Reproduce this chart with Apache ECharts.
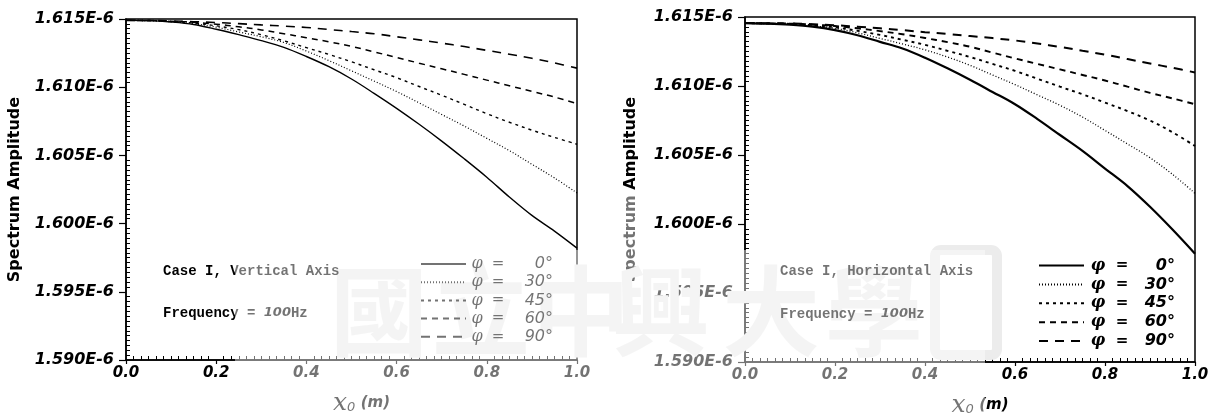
<!DOCTYPE html>
<html>
<head>
<meta charset="utf-8">
<script src="https://cdn.jsdelivr.net/npm/echarts@6/dist/echarts.min.js"></script>
<style>
html,body{margin:0;padding:0;background:#fff;}
#c{width:1213px;height:414px;}
</style>
</head>
<body>
<div id="c"></div>
<script>
// ---- data ----
const xValues = [0,0.05,0.10,0.15,0.20,0.25,0.30,0.35,0.40,0.45,0.50,0.55,0.60,0.65,0.70,0.75,0.80,0.85,0.90,0.95,1.00];
const phiLabels = ['0','30','45','60','90'];
const yTickMin = 1.590e-6, yTickMax = 1.615e-6, yTickStep = 0.005e-6;
const xTickMin = 0, xTickMax = 1, xTickStep = 0.2;

// Case I, Vertical Axis
const vert0  = [1.61490e-6,1.61488e-6,1.61478e-6,1.61460e-6,1.61425e-6,1.61385e-6,1.61342e-6,1.61292e-6,1.61225e-6,1.61150e-6,1.61060e-6,1.60955e-6,1.60845e-6,1.60728e-6,1.60605e-6,1.60475e-6,1.60340e-6,1.60195e-6,1.60060e-6,1.59945e-6,1.59820e-6];
const vert30 = [1.61490e-6,1.61488e-6,1.61480e-6,1.61465e-6,1.61440e-6,1.61405e-6,1.61370e-6,1.61328e-6,1.61265e-6,1.61195e-6,1.61120e-6,1.61045e-6,1.60968e-6,1.60885e-6,1.60800e-6,1.60715e-6,1.60625e-6,1.60535e-6,1.60435e-6,1.60335e-6,1.60225e-6];
const vert45 = [1.61490e-6,1.61489e-6,1.61482e-6,1.61470e-6,1.61450e-6,1.61422e-6,1.61385e-6,1.61340e-6,1.61290e-6,1.61240e-6,1.61186e-6,1.61128e-6,1.61070e-6,1.61005e-6,1.60941e-6,1.60874e-6,1.60806e-6,1.60743e-6,1.60685e-6,1.60632e-6,1.60582e-6];
const vert60 = [1.61490e-6,1.61489e-6,1.61484e-6,1.61476e-6,1.61462e-6,1.61443e-6,1.61420e-6,1.61392e-6,1.61363e-6,1.61333e-6,1.61299e-6,1.61259e-6,1.61218e-6,1.61176e-6,1.61135e-6,1.61094e-6,1.61052e-6,1.61011e-6,1.60969e-6,1.60928e-6,1.60879e-6];
const vert90 = [1.61490e-6,1.61489e-6,1.61486e-6,1.61480e-6,1.61474e-6,1.61466e-6,1.61457e-6,1.61448e-6,1.61438e-6,1.61423e-6,1.61408e-6,1.61392e-6,1.61370e-6,1.61347e-6,1.61323e-6,1.61298e-6,1.61270e-6,1.61242e-6,1.61212e-6,1.61178e-6,1.61140e-6];

// Case I, Horizontal Axis
const hor0  = [1.61456e-6,1.61452e-6,1.61444e-6,1.61430e-6,1.61405e-6,1.61368e-6,1.61320e-6,1.61272e-6,1.61205e-6,1.61128e-6,1.61045e-6,1.60957e-6,1.60868e-6,1.60760e-6,1.60645e-6,1.60530e-6,1.60402e-6,1.60275e-6,1.60125e-6,1.59960e-6,1.59785e-6];
const hor30 = [1.61456e-6,1.61452e-6,1.61446e-6,1.61435e-6,1.61418e-6,1.61385e-6,1.61345e-6,1.61305e-6,1.61262e-6,1.61210e-6,1.61150e-6,1.61080e-6,1.61010e-6,1.60935e-6,1.60860e-6,1.60775e-6,1.60678e-6,1.60580e-6,1.60480e-6,1.60360e-6,1.60222e-6];
const hor45 = [1.61456e-6,1.61453e-6,1.61450e-6,1.61440e-6,1.61425e-6,1.61400e-6,1.61370e-6,1.61335e-6,1.61298e-6,1.61255e-6,1.61210e-6,1.61160e-6,1.61110e-6,1.61052e-6,1.60995e-6,1.60940e-6,1.60880e-6,1.60818e-6,1.60750e-6,1.60665e-6,1.60565e-6];
const hor60 = [1.61456e-6,1.61454e-6,1.61452e-6,1.61445e-6,1.61435e-6,1.61418e-6,1.61398e-6,1.61375e-6,1.61348e-6,1.61318e-6,1.61285e-6,1.61242e-6,1.61200e-6,1.61160e-6,1.61120e-6,1.61080e-6,1.61040e-6,1.60995e-6,1.60950e-6,1.60910e-6,1.60868e-6];
const hor90 = [1.61456e-6,1.61455e-6,1.61453e-6,1.61448e-6,1.61440e-6,1.61430e-6,1.61418e-6,1.61405e-6,1.61390e-6,1.61377e-6,1.61362e-6,1.61347e-6,1.61330e-6,1.61308e-6,1.61283e-6,1.61255e-6,1.61227e-6,1.61195e-6,1.61163e-6,1.61132e-6,1.61098e-6];

const vertSeries = [vert0, vert30, vert45, vert60, vert90];
const horSeries  = [hor0, hor30, hor45, hor60, hor90];
const watermarkChars = ['國','立','中','興','大','學'];

// ---- styles ----
const dashTypes = ['solid', [1,2], [3,4], [6,5], [9,7]];
const vertWidths = [1.4, 1.2, 1.4, 1.5, 1.6];
const horWidths  = [2.2, 1.3, 1.9, 1.9, 2.0];

const chart = echarts.init(document.getElementById('c'));

function pts(ys){ return xValues.map((x,i)=>[x, ys[i]]); }

const nameToPhi = {};
const vertNames = phiLabels.map(p => { const n = 'V' + p; nameToPhi[n] = p; return n; });
const horNames  = phiLabels.map(p => { const n = 'H' + p; nameToPhi[n] = p; return n; });

function yAxisCfg(gi, gap){
  return {
    type:'value', gridIndex:gi, min:yTickMin, max:yTickMax, interval:yTickStep,
    name:'Spectrum Amplitude', nameLocation:'middle', nameGap:gap, nameRotate:90,
    nameTextStyle:{fontFamily:'DejaVu Sans', fontWeight:'bold', fontSize:16, color:'#000'},
    axisLine:{show:true, lineStyle:{color:'#000', width:1.5}},
    axisTick:{show:true, inside:false, length:7, lineStyle:{color:'#000', width:1.2}},
    minorTick:{show:true, splitNumber:14, length:-4, lineStyle:{color:'#000', width:1}},
    splitLine:{show:false}, minorSplitLine:{show:false},
    axisLabel:{margin:12, fontFamily:'DejaVu Sans', fontWeight:'bold', fontStyle:'italic', fontSize:16, color:'#000',
      formatter: v => (v*1e6).toFixed(3) + 'E-6'}
  };
}
function xAxisCfg(gi){
  return {
    type:'value', gridIndex:gi, min:xTickMin, max:xTickMax, interval:xTickStep,
    name:'{x|x}{s|0} {m|(m)}', nameLocation:'middle', nameGap:30,
    nameTextStyle:{padding:[0,0,0,20], rich:{
      x:{fontFamily:'DejaVu Serif', fontStyle:'italic', fontSize:25, color:'#000', lineHeight:26},
      s:{fontFamily:'DejaVu Sans', fontStyle:'italic', fontSize:13, color:'#000', padding:[9,2,0,0], lineHeight:26},
      m:{fontFamily:'DejaVu Sans', fontStyle:'italic', fontWeight:'bold', fontSize:15, color:'#000', lineHeight:26}
    }},
    axisLine:{show:true, lineStyle:{color:'#000', width:1.5}},
    axisTick:{show:true, inside:false, length:4, lineStyle:{color:'#000', width:1.2}},
    minorTick:{show:true, splitNumber:12, length:-4, lineStyle:{color:'#000', width:1}},
    splitLine:{show:false}, minorSplitLine:{show:false},
    axisLabel:{margin:6, fontFamily:'DejaVu Sans', fontWeight:'bold', fontStyle:'italic', fontSize:15, color:'#000',
      formatter: v => v.toFixed(1)}
  };
}

const series = [];
vertSeries.forEach((ys,i)=>{
  series.push({type:'line', name:vertNames[i], xAxisIndex:0, yAxisIndex:0, data:pts(ys),
    showSymbol:false, symbol:'none', smooth:0.35, silent:true, z:3, color:'#000',
    itemStyle:{color:'#000'},
    lineStyle:{color:'#000', width:vertWidths[i], type:dashTypes[i]}});
});
horSeries.forEach((ys,i)=>{
  series.push({type:'line', name:horNames[i], xAxisIndex:1, yAxisIndex:1, data:pts(ys),
    showSymbol:false, symbol:'none', smooth:0.35, silent:true, z:3, color:'#000',
    itemStyle:{color:'#000'},
    lineStyle:{color:'#000', width:horWidths[i], type:dashTypes[i]}});
});

function legendCfg(names, left, top, gap, bold, pW, eW, vW){
  const fw = bold ? 'bold' : 'normal';
  return {
    orient:'vertical', left:left, top:top, padding:0, itemGap:gap, itemWidth:45, itemHeight:10,
    selectedMode:false, data:names,
    itemStyle:{opacity:0, color:'rgba(0,0,0,0)', borderWidth:0},
    formatter: n => '{p|φ}{e|=}{v|' + nameToPhi[n] + '°}',
    textStyle:{color:'#000', lineHeight:17, rich:{
      p:{width:pW, align:'right', fontFamily:'DejaVu Serif', fontStyle:'italic', fontWeight:fw, fontSize:16, lineHeight:17, color:'#000'},
      e:{width:eW, align:'center', fontFamily:'DejaVu Sans', fontWeight:fw, fontSize:15, lineHeight:17, color:'#000'},
      v:{width:vW, align:'right', fontFamily:'DejaVu Sans', fontStyle:'italic', fontWeight:fw, fontSize:16, lineHeight:17, color:'#000'}
    }}
  };
}

const graphics = [];
// watermark characters (faint)
const wmX = [330, 432, 532, 612, 722, 825];
watermarkChars.forEach((ch,i)=>{
  graphics.push({type:'text', x:wmX[i], y:262, z:1, silent:true,
    style:{text:ch, fontFamily:'"Noto Sans CJK TC"', fontWeight:'bold', fontSize:98, fill:'#ececec'}});
});
graphics.push({type:'rect', z:1, silent:true, shape:{x:935, y:250, width:62, height:105, r:6},
  style:{fill:'none', stroke:'#ececec', lineWidth:10}});
// annotations
const monoB = {fontFamily:'"Liberation Mono"', fontWeight:'bold', fontSize:14, fill:'#000'};
function annot(x,y,text){
  return {type:'text', x:x, y:y, z:50, silent:true, style:Object.assign({text:text, verticalAlign:'middle'}, monoB)};
}
function freq(x,y){
  return {type:'text', x:x, y:y, z:50, silent:true, style:{
    text:'{a|Frequency = }{b|100}{a|Hz}', verticalAlign:'middle',
    rich:{a:{fontFamily:'Liberation Mono', fontWeight:'bold', fontSize:14, fill:'#000'},
          b:{fontFamily:'DejaVu Sans', fontStyle:'italic', fontWeight:'bold', fontSize:13, fill:'#000'}}}};
}
graphics.push(annot(163, 271, 'Case I, Vertical Axis'));
graphics.push(freq(163, 313));
graphics.push(annot(780, 271, 'Case I, Horizontal Axis'));
graphics.push(freq(780, 314));
// light watermark veil over the lower middle
graphics.push({type:'rect', z:200, silent:true, shape:{x:235, y:250, width:750, height:164},
  style:{fill:'rgba(255,255,255,0.45)'}});
graphics.push({type:'rect', z:200, silent:true, shape:{x:600, y:190, width:42, height:60},
  style:{fill:'rgba(255,255,255,0.45)'}});

const option = {
  animation:false,
  backgroundColor:'#fff',
  color:['#000'],
  grid:[
    {left:126, top:19, width:451, height:341, show:true, borderColor:'#000', borderWidth:1.5, outerBoundsMode:'none', containLabel:false},
    {left:745, top:17, width:450, height:345, show:true, borderColor:'#000', borderWidth:1.5, outerBoundsMode:'none', containLabel:false}
  ],
  xAxis:[xAxisCfg(0), xAxisCfg(1)],
  yAxis:[yAxisCfg(0, 103), yAxisCfg(1, 106)],
  legend:[
    legendCfg(vertNames, 420, 255.5, 1.2, false, 12, 30, 40),
    legendCfg(horNames, 1038, 257, 1.9, true, 18, 30, 38)
  ],
  graphic:{elements:graphics},
  series:series
};
chart.setOption(option);
</script>
</body>
</html>
